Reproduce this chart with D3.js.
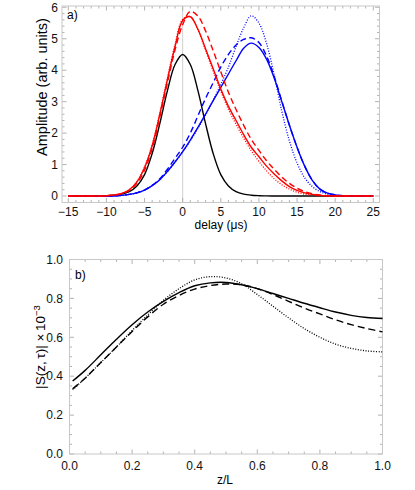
<!DOCTYPE html>
<html><head><meta charset="utf-8">
<script src="https://cdn.jsdelivr.net/npm/d3@7"></script>
<style>
body{margin:0;background:#fff;}
svg{display:block;font-family:"Liberation Sans",Arial,sans-serif;}
</style></head>
<body><svg id="c" width="415" height="490"></svg>
<script>
// ---------- Panel a) data ----------
const delay = d3.range(-15, 26, 1); // -15 .. 25
const blackPulse = [0,0,0,0,0.004,0.01,0.025,0.06,0.14,0.32,0.68,1.35,2.3,3.35,4.18,4.5,4.18,3.35,2.3,1.35,0.68,0.32,0.14,0.06,0.025,0.01,0.004,0,0,0,0,0,0,0,0,0,0,0,0,0,0];
const redSolid   = [0,0,0,0,0,0.01,0.03,0.08,0.2,0.45,0.9,1.6,2.6,3.7,4.75,5.58,5.7,5.3,4.68,4.05,3.4,2.85,2.4,1.95,1.55,1.25,0.95,0.7,0.48,0.3,0.18,0.1,0.05,0.02,0.01,0,0,0,0,0,0];
const redDashed  = [0,0,0,0,0,0.01,0.03,0.07,0.18,0.4,0.82,1.5,2.5,3.6,4.65,5.45,5.87,5.72,5.25,4.62,3.95,3.3,2.75,2.25,1.8,1.45,1.12,0.85,0.6,0.4,0.25,0.14,0.07,0.03,0.01,0,0,0,0,0,0];
const redDotted  = [0,0,0,0,0,0.01,0.03,0.08,0.2,0.46,0.92,1.63,2.63,3.75,4.82,5.62,5.7,5.28,4.63,3.97,3.33,2.76,2.28,1.84,1.44,1.1,0.8,0.55,0.36,0.22,0.12,0.06,0.03,0.01,0,0,0,0,0,0,0];
const blueSolid  = [0,0,0,0,0,0,0,0.02,0.05,0.1,0.19,0.33,0.52,0.78,1.08,1.41,1.78,2.18,2.6,3.03,3.45,3.88,4.3,4.7,4.86,4.72,4.35,3.75,3.0,2.25,1.55,0.95,0.5,0.22,0.09,0.035,0.01,0,0,0,0];
const blueDashed = [0,0,0,0,0,0,0,0.02,0.05,0.1,0.19,0.34,0.55,0.85,1.2,1.55,2.0,2.55,3.1,3.6,4.1,4.5,4.8,4.98,5.03,4.88,4.45,3.8,3.02,2.25,1.55,0.95,0.5,0.22,0.09,0.035,0.01,0,0,0,0];
const blueDotted = [0,0,0,0,0,0,0,0.02,0.05,0.1,0.19,0.33,0.52,0.78,1.08,1.4,1.76,2.15,2.58,3.05,3.55,4.1,4.75,5.35,5.73,5.5,4.85,3.85,2.7,1.75,1.05,0.58,0.3,0.14,0.06,0.02,0,0,0,0,0];
const xTicksA = [-15,-10,-5,0,5,10,15,20,25];
const yTicksA = [0,1,2,3,4,5,6];

// ---------- Panel b) data ----------
const zL = [0.01,0.05,0.1,0.15,0.2,0.25,0.3,0.35,0.4,0.45,0.5,0.55,0.6,0.65,0.7,0.75,0.8,0.85,0.9,0.95,1.0];
const sSolid  = [0.375,0.43,0.51,0.59,0.665,0.73,0.785,0.83,0.865,0.88,0.882,0.87,0.85,0.825,0.8,0.775,0.752,0.73,0.713,0.702,0.697];
const sDashed = [0.335,0.39,0.47,0.55,0.63,0.705,0.77,0.815,0.848,0.866,0.874,0.87,0.85,0.82,0.785,0.75,0.72,0.69,0.665,0.645,0.628];
const sDotted = [0.33,0.39,0.47,0.55,0.635,0.715,0.79,0.85,0.895,0.912,0.905,0.875,0.82,0.76,0.7,0.645,0.6,0.565,0.543,0.53,0.525];
const xTicksB = [0,0.2,0.4,0.6,0.8,1.0];
const yTicksB = [0,0.2,0.4,0.6,0.8,1.0];

const svg = d3.select("#c");
const frameCol = "#c8c8c8", tickCol = "#a0a0a0";

function panel(cfg){
  const g = svg.append("g");
  const x = d3.scaleLinear().domain(cfg.xd).range(cfg.xr);
  const y = d3.scaleLinear().domain(cfg.yd).range(cfg.yr);
  const [fx0,fx1,fy0,fy1] = cfg.frame;
  if(cfg.zeroLine){
    g.append("line").attr("x1",x(0)).attr("x2",x(0)).attr("y1",fy0).attr("y2",fy1)
      .attr("stroke","#cfcfcf").attr("stroke-width",1);
  }
  const tk = g.append("g").attr("stroke",tickCol).attr("stroke-width",0.8);
  const xMinor = d3.range(cfg.xd[0], cfg.xd[1]+cfg.xm/2, cfg.xm);
  const yMinor = d3.range(cfg.yd[0], cfg.yd[1]+cfg.ym/2, cfg.ym);
  const isMajor = (v,arr)=>arr.some(t=>Math.abs(t-v)<1e-9);
  xMinor.forEach(v=>{
    const L = isMajor(v,cfg.xt)?4.5:2.5;
    tk.append("line").attr("x1",x(v)).attr("x2",x(v)).attr("y1",fy1).attr("y2",fy1-L);
    tk.append("line").attr("x1",x(v)).attr("x2",x(v)).attr("y1",fy0).attr("y2",fy0+L);
  });
  yMinor.forEach(v=>{
    const L = isMajor(v,cfg.yt)?4.5:2.5;
    tk.append("line").attr("y1",y(v)).attr("y2",y(v)).attr("x1",fx0).attr("x2",fx0+L);
    tk.append("line").attr("y1",y(v)).attr("y2",y(v)).attr("x1",fx1).attr("x2",fx1-L);
  });
  g.append("rect").attr("x",fx0).attr("y",fy0).attr("width",fx1-fx0).attr("height",fy1-fy0)
    .attr("fill","none").attr("stroke",frameCol).attr("stroke-width",1);
  g.selectAll(".xl").data(cfg.xt).join("text")
    .attr("x",d=>x(d)).attr("y",cfg.xlY).attr("text-anchor","middle")
    .attr("font-size",12).attr("fill","#111").text(cfg.xf);
  g.selectAll(".yl").data(cfg.yt).join("text")
    .attr("x",cfg.ylX).attr("y",d=>y(d)+4.2).attr("text-anchor","end")
    .attr("font-size",12).attr("fill","#111").text(cfg.yf);
  const cl = g.append("g");
  cfg.series.forEach(s=>{
    const pts = cfg.xs.map((xv,i)=>[xv,s.v[i]]);
    const line = d3.line().x(d=>x(d[0])).y(d=>y(d[1])).curve(d3.curveCatmullRom.alpha(0.5));
    cl.append("path").attr("d",line(pts)).attr("fill","none")
      .attr("stroke",s.c).attr("stroke-width",s.w||1.4)
      .attr("stroke-dasharray",s.dash||null);
  });
  return {g,x,y};
}

const fmtA = d=>d3.format("d")(d);
const fmtB = d=>d3.format(".1f")(d);

const A = panel({
  xd:[-15,25], xr:[68.3,373.3], yd:[0,6], yr:[196,7.3],
  frame:[62,379.5,6,202.5], zeroLine:true,
  xt:xTicksA, yt:yTicksA, xm:1, ym:0.2, xf:fmtA, yf:fmtA,
  xlY:215.5, ylX:58,
  xs:delay,
  series:[
    {v:blackPulse,c:"#000"},
    {v:blueSolid,c:"#0000ff"},
    {v:blueDashed,c:"#0000ff",dash:"6,3.5"},
    {v:blueDotted,c:"#0000ff",dash:"1,1.6",w:1.3},
    {v:redSolid,c:"#ff0000"},
    {v:redDashed,c:"#ff0000",dash:"6,3.5"},
    {v:redDotted,c:"#ff0000",dash:"1,1.6",w:1.3}
  ]
});
A.g.append("text").attr("x",67).attr("y",19).attr("font-size",12).text("a)");
A.g.append("text").attr("transform","translate(47,87) rotate(-90)").attr("text-anchor","middle")
  .attr("font-size",14.5).text("Amplitude (arb. units)");
A.g.append("text").attr("x",221).attr("y",229).attr("text-anchor","middle").attr("font-size",12)
  .text("delay (\u03bcs)");

const B = panel({
  xd:[0,1], xr:[69.5,382.5], yd:[0,1], yr:[454,259.5],
  frame:[69.5,382.5,259.5,454], zeroLine:false,
  xt:xTicksB, yt:yTicksB, xm:0.05, ym:0.05, xf:fmtB, yf:fmtB,
  xlY:470, ylX:63,
  xs:zL,
  series:[
    {v:sSolid,c:"#000"},
    {v:sDashed,c:"#000",dash:"7,4"},
    {v:sDotted,c:"#000",dash:"1,1.6",w:1.3}
  ]
});
B.g.append("text").attr("x",75).attr("y",279).attr("font-size",12).text("b)");
const yl = B.g.append("text").attr("transform","translate(45,347) rotate(-90)").attr("text-anchor","middle")
  .attr("font-size",13.5);
yl.append("tspan").text("|S(z,\u2009\u03c4)| \u00d7\u200910");
yl.append("tspan").attr("font-size",9.5).attr("dy",-5.5).text("\u22123");
B.g.append("text").attr("x",225).attr("y",484).attr("text-anchor","middle").attr("font-size",12).text("z/L");
</script></body></html>
